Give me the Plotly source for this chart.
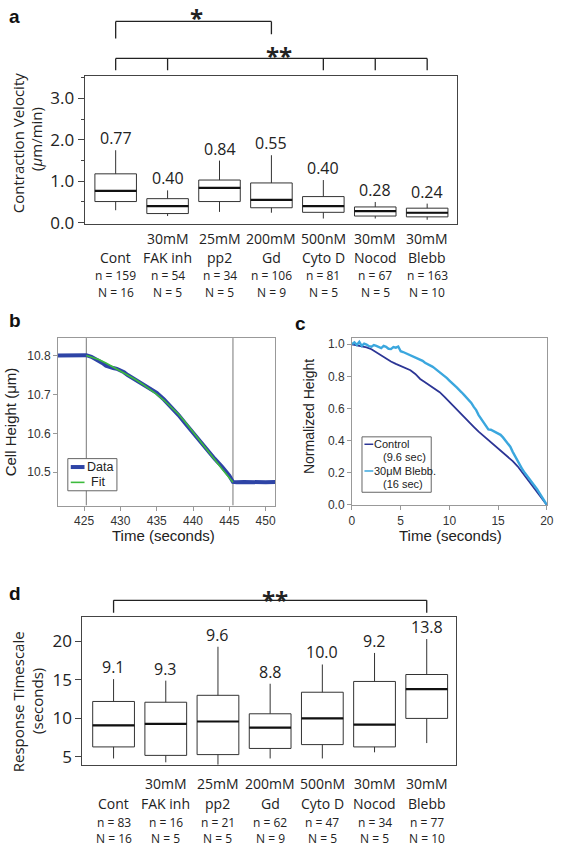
import plotly.graph_objects as go

W, H = 561, 855

# ---------------- DATA ----------------
categories_top = ["", "30mM", "25mM", "200mM", "500nM", "30mM", "30mM"]
categories_bottom = ["Cont", "FAK inh", "pp2", "Gd", "Cyto D", "Nocod", "Blebb"]

# panel a: contraction velocity (um/min)
a_median = [0.77, 0.40, 0.84, 0.55, 0.40, 0.28, 0.24]
a_q1 = [0.51, 0.22, 0.51, 0.36, 0.25, 0.16, 0.14]
a_q3 = [1.18, 0.58, 1.03, 0.96, 0.63, 0.38, 0.35]
a_low = [0.30, 0.16, 0.26, 0.24, 0.10, 0.10, 0.07]
a_high = [1.75, 0.78, 1.50, 1.63, 1.03, 0.50, 0.46]
a_n = [159, 54, 34, 106, 81, 67, 163]
a_N = [16, 5, 5, 9, 5, 5, 10]

# panel d: response timescale (s)
d_median = [9.1, 9.3, 9.6, 8.8, 10.0, 9.2, 13.8]
d_q1 = [6.3, 5.2, 5.3, 6.1, 6.6, 6.3, 10.0]
d_q3 = [12.2, 12.1, 13.0, 10.6, 13.4, 14.8, 15.7]
d_low = [4.8, 4.3, 4.0, 4.8, 4.8, 5.6, 6.8]
d_high = [15.1, 14.9, 19.3, 14.5, 17.0, 18.5, 20.3]
d_n = [83, 16, 21, 62, 47, 34, 77]
d_N = [16, 5, 5, 9, 5, 5, 10]

# panel b: cell height trace
b_time = [421.4, 422.0, 422.5, 423.0, 423.5, 424.0, 424.5, 425.0, 425.3, 426.0, 426.5,
          427.0, 427.5, 428.0, 428.5, 429.0, 429.5, 430.0, 430.5, 431.0, 432.0, 433.0,
          434.0, 435.0, 436.0, 437.0, 438.0, 439.0, 440.0, 441.0, 442.0, 443.0, 444.0,
          445.0, 445.5, 446.0, 447.0, 448.0, 449.0, 450.0, 451.3]
b_height = [10.800, 10.800, 10.799, 10.801, 10.800, 10.799, 10.801, 10.800, 10.801, 10.797, 10.792,
            10.787, 10.781, 10.774, 10.770, 10.768, 10.766, 10.762, 10.757, 10.750, 10.739, 10.727,
            10.716, 10.704, 10.687, 10.668, 10.647, 10.624, 10.601, 10.578, 10.556, 10.534, 10.514,
            10.491, 10.475, 10.474, 10.475, 10.474, 10.475, 10.474, 10.475]
b_fit_time = [425.3, 427.0, 428.0, 429.0, 430.0, 431.0, 432.0, 433.0, 434.0, 435.0, 436.0,
              437.0, 438.0, 439.0, 440.0, 441.0, 442.0, 443.0, 444.0, 445.0, 445.5]
b_fit_height = [10.800, 10.790, 10.781, 10.771, 10.761, 10.750, 10.739, 10.727, 10.714, 10.700, 10.685,
                10.668, 10.649, 10.627, 10.604, 10.580, 10.556, 10.532, 10.508, 10.485, 10.474]
b_events = [425.3, 445.5]

# panel c: normalized height
c_ctrl_time = [0, 0.5, 1, 1.5, 2, 2.5, 3, 3.5, 4, 4.5, 5, 5.5, 6, 6.5, 7, 7.5, 8, 8.5, 9, 9.5,
               10, 10.5, 11, 11.5, 12, 12.5, 13, 13.5, 14, 14.5, 15, 15.5, 16, 16.5, 17, 17.5,
               18, 18.5, 19, 19.5, 20]
c_ctrl = [1.000, 0.995, 0.990, 0.981, 0.969, 0.950, 0.928, 0.910, 0.893, 0.878, 0.866, 0.853,
          0.838, 0.815, 0.784, 0.764, 0.743, 0.724, 0.702, 0.673, 0.641, 0.610, 0.579, 0.549,
          0.518, 0.486, 0.456, 0.430, 0.404, 0.378, 0.353, 0.328, 0.302, 0.272, 0.240, 0.200,
          0.158, 0.117, 0.076, 0.038, 0.000]
c_bleb_time = [0, 0.25, 0.5, 0.75, 1, 1.25, 1.5, 1.75, 2, 2.25, 2.5, 2.75, 3, 3.25, 3.5, 3.75,
               4, 4.25, 4.5, 4.75, 5, 5.25, 5.5, 5.75, 6, 6.25, 6.5, 6.75, 7, 7.25, 7.5, 7.75,
               8, 8.25, 8.5, 8.75, 9, 9.25, 9.5, 9.75, 10, 10.25, 10.5, 10.75, 11, 11.25, 11.5,
               11.75, 12, 12.25, 12.5, 12.75, 13, 13.25, 13.5, 13.75, 14, 14.25, 14.5, 14.75,
               15, 15.25, 15.5, 15.75, 16, 16.25, 16.5, 16.75, 17, 17.25, 17.5, 17.75, 18,
               18.25, 18.5, 18.75, 19, 19.25, 19.5, 19.75, 20]
c_bleb = [1.000, 1.012, 0.996, 1.015, 0.990, 1.004, 0.998, 0.988, 0.985, 0.995, 0.990, 0.981,
          0.976, 0.990, 0.984, 0.972, 0.970, 0.983, 0.979, 0.986, 0.957, 0.952, 0.945, 0.942,
          0.930, 0.928, 0.920, 0.914, 0.905, 0.897, 0.885, 0.878, 0.866, 0.861, 0.850, 0.838,
          0.825, 0.816, 0.800, 0.789, 0.774, 0.762, 0.745, 0.731, 0.713, 0.701, 0.685, 0.668,
          0.651, 0.635, 0.610, 0.590, 0.559, 0.535, 0.510, 0.488, 0.470, 0.468, 0.460, 0.455,
          0.446, 0.436, 0.420, 0.402, 0.384, 0.362, 0.330, 0.302, 0.271, 0.244, 0.220, 0.198,
          0.179, 0.158, 0.140, 0.116, 0.097, 0.073, 0.050, 0.026, 0.000]

# ---------------- helpers ----------------
def py(p):
    return 1 - p / H

def px(p):
    return p / W

HUM = "Open Sans"
ARI = "Liberation Sans, Arial"
annotations = []
shapes = []

def ann(x, y, text, size, family=HUM, xref="paper", yref="paper", color="#222",
        xanchor="center", yanchor="middle", **kw):
    d = dict(x=x, y=y, text=text, xref=xref, yref=yref, showarrow=False,
             xanchor=xanchor, yanchor=yanchor, borderpad=0,
             font=dict(family=family, size=size, color=color))
    d.update(kw)
    annotations.append(d)

fig = go.Figure()

# ---------------- panels a and d (box plots) ----------------
def box_panel(xa, ya, q1, med, q3, lo, hi, fmt):
    xs = list(range(len(med)))
    fig.add_trace(go.Box(
        x=xs, q1=q1, median=med, q3=q3, lowerfence=lo, upperfence=hi,
        xaxis=xa, yaxis=ya, width=0.8, whiskerwidth=0,
        line=dict(color="#333", width=1), fillcolor="white",
        boxpoints=False, showlegend=False, hoverinfo="skip"))
    for i, m in enumerate(med):
        fig.add_trace(go.Scatter(x=[i - 0.4, i + 0.4], y=[m, m], mode="lines",
                                 line=dict(color="#111", width=2.2), xaxis=xa, yaxis=ya,
                                 showlegend=False, hoverinfo="skip"))
        ann(i, hi[i], fmt.format(m), 16, xref=xa, yref=ya, yanchor="bottom", yshift=0)

box_panel("x", "y", a_q1, a_median, a_q3, a_low, a_high, "{:.2f}")
box_panel("x4", "y4", d_q1, d_median, d_q3, d_low, d_high, "{:.1f}")

def cat_labels(xref, rows, nvals, Nvals):
    r1, r2, r3, r4 = rows
    for i in range(len(categories_bottom)):
        if categories_top[i]:
            ann(i, py(r1), categories_top[i], 14, xref=xref)
        ann(i, py(r2), categories_bottom[i], 14, xref=xref)
        ann(i, py(r3), "n = %d" % nvals[i], 12, xref=xref)
        ann(i, py(r4), "N = %d" % Nvals[i], 12, xref=xref)

cat_labels("x", (241, 260, 278, 296), a_n, a_N)
cat_labels("x4", (792, 812, 831, 847), d_n, d_N)

def bracket(xref, i0, i1, ytop, ybot_l, ybot_r, legs=()):
    lc = dict(color="#222", width=1.3)
    shapes.append(dict(type="line", xref=xref, yref="paper", x0=i0, x1=i1,
                       y0=py(ytop), y1=py(ytop), line=lc))
    shapes.append(dict(type="line", xref=xref, yref="paper", x0=i0, x1=i0,
                       y0=py(ytop), y1=py(ybot_l), line=lc))
    shapes.append(dict(type="line", xref=xref, yref="paper", x0=i1, x1=i1,
                       y0=py(ytop), y1=py(ybot_r), line=lc))
    for k in legs:
        shapes.append(dict(type="line", xref=xref, yref="paper", x0=k, x1=k,
                           y0=py(ytop), y1=py(ybot_l), line=lc))

bracket("x", 0, 3, 21.7, 39, 34.7)
bracket("x", 0, 6, 59, 71, 71, legs=(1, 4, 5))
bracket("x4", 0, 6, 606.7, 619.3, 619.3)
ann(1.55, py(0.5), "<b>*</b>", 24, xref="x", yanchor="top")
ann(3.15, py(38), "<b>**</b>", 24, xref="x", yanchor="top")
ann(3.1, py(588), "<b>**</b>", 24, xref="x4", yanchor="top")

# y titles a, d
ann(px(16), py(145), "Contraction Velocity", 15, textangle=-90)
ann(px(33), py(140), "(<i>μ</i>m/min)", 15, textangle=-90)
ann(px(15), py(709), "Response Timescale", 15, textangle=-90)
ann(px(34), py(708), "(seconds)", 15, textangle=-90)

# ---------------- panel b ----------------
for t in b_events:
    fig.add_trace(go.Scatter(x=[t, t], y=[10.414, 10.845], mode="lines",
                             line=dict(color="#777", width=1), xaxis="x2", yaxis="y2",
                             showlegend=False, hoverinfo="skip"))
fig.add_trace(go.Scatter(x=b_time, y=b_height, mode="lines", line=dict(color="#2e44a6", width=4),
                         xaxis="x2", yaxis="y2", showlegend=False))
fig.add_trace(go.Scatter(x=b_fit_time, y=b_fit_height, mode="lines", line=dict(color="#3dbb3d", width=1.6),
                         xaxis="x2", yaxis="y2", showlegend=False))

# legend b (manual)
shapes.append(dict(type="rect", xref="paper", yref="paper", x0=px(66), x1=px(116), y0=py(496), y1=py(463.5),
                   line=dict(color="#666", width=1), fillcolor="white"))
shapes.append(dict(type="line", xref="paper", yref="paper", x0=px(69), x1=px(83), y0=py(472), y1=py(472),
                   line=dict(color="#2e44a6", width=4)))
shapes.append(dict(type="line", xref="paper", yref="paper", x0=px(69), x1=px(83), y0=py(487.5), y1=py(487.5),
                   line=dict(color="#3dbb3d", width=1.6)))
ann(px(85), py(472), "Data", 12.5, family=ARI, xanchor="left")
ann(px(89), py(487.5), "Fit", 12.5, family=ARI, xanchor="left")

ann(px(8), py(426), "Cell Height (μm)", 15, family=ARI, textangle=-90)
ann(px(163), py(541), "Time (seconds)", 15, family=ARI)

# ---------------- panel c ----------------
fig.add_trace(go.Scatter(x=c_ctrl_time, y=c_ctrl, mode="lines", line=dict(color="#2c3595", width=1.8),
                         xaxis="x3", yaxis="y3", showlegend=False))
fig.add_trace(go.Scatter(x=c_bleb_time, y=c_bleb, mode="lines", line=dict(color="#3ba7de", width=2.4),
                         xaxis="x3", yaxis="y3", showlegend=False))

shapes.append(dict(type="rect", xref="paper", yref="paper", x0=px(365.5), x1=px(436), y0=py(497.5), y1=py(441.5),
                   line=dict(color="#666", width=1), fillcolor="white"))
shapes.append(dict(type="line", xref="paper", yref="paper", x0=px(368), x1=px(377), y0=py(449), y1=py(449),
                   line=dict(color="#2c3595", width=1.5)))
shapes.append(dict(type="line", xref="paper", yref="paper", x0=px(368), x1=px(377), y0=py(476), y1=py(476),
                   line=dict(color="#3ba7de", width=1.5)))
ann(px(377), py(449), "Control", 11, family=ARI, xanchor="left")
ann(px(386), py(462), "(9.6 sec)", 11, family=ARI, xanchor="left")
ann(px(377), py(476), "30μM Blebb.", 11, family=ARI, xanchor="left")
ann(px(386), py(489), "(16 sec)", 11, family=ARI, xanchor="left")

ann(px(311), py(421), "Normalized Height", 14, family=ARI, textangle=-90)
ann(px(456), py(541), "Time (seconds)", 15, family=ARI)

# panel letters
ann(px(12), py(17), "<b>a</b>", 19, family=ARI, color="#111")
ann(px(12), py(324), "<b>b</b>", 19, family=ARI, color="#111")
ann(px(303), py(327), "<b>c</b>", 19, family=ARI, color="#111")
ann(px(12), py(600), "<b>d</b>", 19, family=ARI, color="#111")

# ---------------- axes ----------------
frame = dict(showline=True, mirror=True, linecolor="#444", linewidth=1, zeroline=False, showgrid=False)
frame_g = dict(showline=True, mirror=True, linecolor="#999", linewidth=1, zeroline=False, showgrid=False)

fig.update_layout(
    width=W, height=H, margin=dict(l=0, r=0, t=0, b=0),
    paper_bgcolor="white", plot_bgcolor="white",
    annotations=annotations, shapes=shapes,
    xaxis=dict(domain=[px(83), px(462)], range=[-0.6, 6.57], showticklabels=False, ticks="", **frame),
    yaxis=dict(domain=[py(226.7), py(77)], range=[-0.04, 3.54], tickvals=[0, 1, 2, 3],
               ticktext=["0.0", "1.0", "2.0", "3.0"], ticks="outside", ticklen=6, tickcolor="#444",
               minor=dict(tickvals=[0.5, 1.5, 2.5, 3.5], ticks="outside", ticklen=3, tickcolor="#444"),
               tickfont=dict(family=HUM, size=17, color="#222"), **frame),
    xaxis2=dict(domain=[px(56), px(277)], range=[421.4, 451.3], tickvals=[425, 430, 435, 440, 445, 450],
                ticks="outside", ticklen=4, tickcolor="#999", anchor="y2",
                tickfont=dict(family=ARI, size=12, color="#333"), **frame_g),
    yaxis2=dict(domain=[py(511), py(341.7)], range=[10.414, 10.845], tickvals=[10.5, 10.6, 10.7, 10.8],
                ticktext=["10.5", "10.6", "10.7", "10.8"], ticks="outside", ticklen=4, tickcolor="#999",
                anchor="x2", tickfont=dict(family=ARI, size=12, color="#333"), **frame_g),
    xaxis3=dict(domain=[px(355.3), px(553.7)], range=[0, 20], tickvals=[0, 5, 10, 15, 20],
                ticks="outside", ticklen=4, tickcolor="#999", anchor="y3",
                tickfont=dict(family=ARI, size=12, color="#333"), **frame_g),
    yaxis3=dict(domain=[py(510.7), py(341.3)], range=[-0.003, 1.041], tickvals=[0, 0.2, 0.4, 0.6, 0.8, 1.0],
                ticktext=["0.0", "0.2", "0.4", "0.6", "0.8", "1.0"], ticks="outside", ticklen=4,
                tickcolor="#999", anchor="x3", tickfont=dict(family=ARI, size=12, color="#333"), **frame_g),
    xaxis4=dict(domain=[px(80.7), px(461.7)], range=[-0.6, 6.57], showticklabels=False, ticks="",
                anchor="y4", **frame),
    yaxis4=dict(domain=[py(773.3), py(623.3)], range=[3.93, 23.2], tickvals=[5, 10, 15, 20],
                ticks="outside", ticklen=6, tickcolor="#444", anchor="x4",
                tickfont=dict(family=HUM, size=17, color="#222"), **frame),
)

fig.write_html("out.html", config={"displayModeBar": False},
               post_script="document.body.style.margin='0';document.body.style.overflow='hidden';")
